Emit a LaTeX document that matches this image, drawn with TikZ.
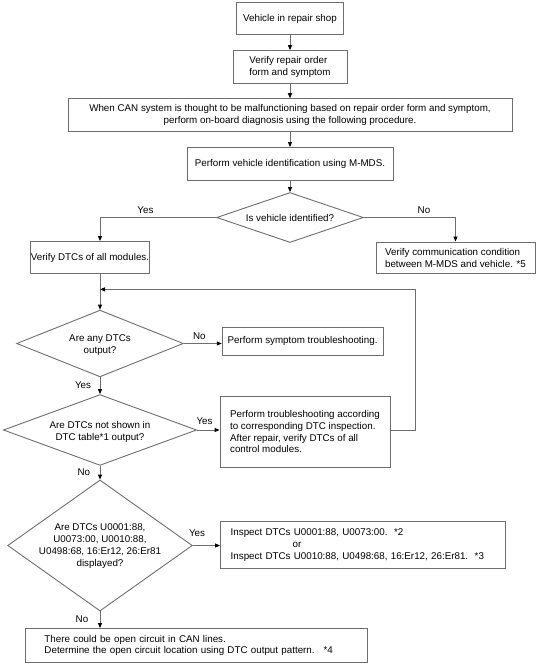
\documentclass[tikz,border=0pt]{standalone}
\usepackage{fontspec}
\setmainfont{Liberation Sans}
\usetikzlibrary{shapes.geometric,arrows.meta}
\definecolor{ln}{RGB}{110,110,110}
\begin{document}
\begin{tikzpicture}[x=1bp,y=-1bp,
  font=\fontsize{9.8bp}{11.8bp}\selectfont,
  box/.style={draw=ln, line width=0.9bp, inner sep=0pt, text=black},
  dia/.style={draw=ln, line width=0.9bp, diamond, inner sep=0pt},
  arr/.style={draw=ln, line width=0.9bp, -{Triangle[length=5bp,width=4bp,color=black]}},
  lbl/.style={inner sep=0pt, text=black}]
\useasboundingbox (0,0) rectangle (537,664);

% boxes
\node[box, minimum width=107.7bp, minimum height=31.8bp] (b1) at (290,18.6) {Vehicle in repair shop};
\node[box, align=left, minimum width=114bp, minimum height=32.8bp] (b2) at (290,67) {Verify repair order\\form and symptom};
\node[box, align=center, minimum width=444bp, minimum height=33bp] (b3) at (290,115.2) {When CAN system is thought to be malfunctioning based on repair order form and symptom,\\perform on-board diagnosis using the following procedure.};
\node[box, minimum width=206bp, minimum height=33bp] (b4) at (290,164) {Perform vehicle identification using M-MDS.};

\node[dia, minimum width=146.7bp, minimum height=50bp] (d1) at (290,217.5) {};
\node[lbl] (d1t) at (d1) {Is vehicle identified?};

\node[box, minimum width=115bp, minimum height=32bp] (b5) at (90,257.5) {Verify DTCs of all modules.};
\node[box, align=left, minimum width=159bp, minimum height=31.5bp] (b6) at (455.5,257.7) {Verify communication condition\\between M-MDS and vehicle. *5};

\node[dia, minimum width=166.7bp, minimum height=66.7bp] (d2) at (100,343.5) {};
\node[lbl, align=center] (d2t) at (100,345) {Are any DTCs\\output?};
\node[box, minimum width=160.7bp, minimum height=27.4bp] (b7) at (302.6,341.4) {Perform symptom troubleshooting.};

\node[dia, minimum width=193.3bp, minimum height=70.8bp] (d3) at (100,430) {};
\node[lbl, align=center] (d3t) at (100,432) {Are DTCs not shown in\\DTC table*1 output?};
\node[box, align=left, minimum width=170bp, minimum height=70.5bp] (b8) at (305,431.7) {Perform troubleshooting according\\to corresponding DTC inspection.\\After repair, verify DTCs of all\\control modules.};

\node[dia, minimum width=184.7bp, minimum height=131bp] (d4) at (100,545.5) {};
\node[lbl, align=center] (d4t) at (100,546) {Are DTCs U0001:88,\\U0073:00, U0010:88,\\U0498:68, 16:Er12, 26:Er81\\displayed?};
\node[box, align=left, text width=264.6bp, inner xsep=10.2bp, minimum height=46.5bp] (b9) at (363,545) {Inspect DTCs U0001:88, U0073:00.\ \ *2\\\hspace*{62bp}or\\Inspect DTCs U0010:88, U0498:68, 16:Er12, 26:Er81.\ \ *3};

\node[box, align=left, text width=304.2bp, inner xsep=18.9bp, minimum height=34bp] (b10) at (196.6,645.5) {There could be open circuit in CAN lines.\\Determine the open circuit location using DTC output pattern.\hspace{9bp}*4};

% connectors
\draw[arr] (b1.south) -- (b2.north);
\draw[arr] (b2.south) -- (b3.north);
\draw[arr] (b3.south) -- (b4.north);
\draw[arr] (b4.south) -- (d1.north);
\draw[arr] (d1.west) -| (d2.north |- b5.north);
\draw[arr] (d1.east) -| (b6.north);
\draw[arr] (d2.north |- b5.south) -- (d2.north);
\coordinate (fb) at (100,289.4);
\coordinate (fbr) at (415,289.4);
\draw[arr] (d3.east -| b8.east) -| (fbr) -- (fb);
\draw[arr] (d2.east) -- (d2.east -| b7.west);
\draw[arr] (d2.south) -- (d3.north);
\draw[arr] (d3.east) -- (d3.east -| b8.west);
\draw[arr] (d3.south) -- (d4.north);
\draw[arr] (d4.east) -- (d4.east -| b9.west);
\draw[arr] (d4.south) -- (d4.south |- b10.north);

% labels
\node[lbl] (l1) at (145.4,209.8) {Yes};
\node[lbl] (l2) at (424,209.8) {No};
\node[lbl] (l3) at (199.4,336.6) {No};
\node[lbl] (l4) at (83,385) {Yes};
\node[lbl] (l5) at (204.5,420.8) {Yes};
\node[lbl] (l6) at (83.8,472.4) {No};
\node[lbl] (l7) at (197,533) {Yes};
\node[lbl] (l8) at (82,619.5) {No};
\end{tikzpicture}
\end{document}
